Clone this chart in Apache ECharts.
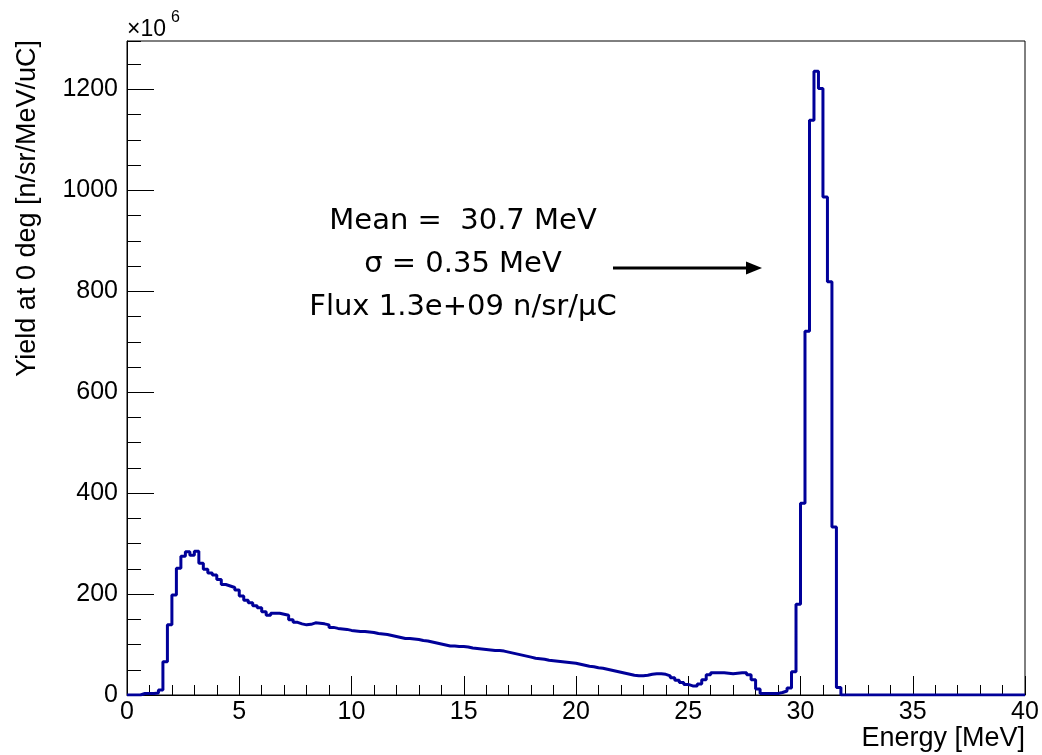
<!DOCTYPE html>
<html>
<head>
<meta charset="utf-8">
<script src="https://cdn.jsdelivr.net/npm/echarts@6/dist/echarts.min.js"></script>
<style>
html,body{margin:0;padding:0;background:#fff;}
#chart{width:1042px;height:755px;}
</style>
</head>
<body>
<div id="chart"></div>
<script>
// ---- data ----
const binWidth = 0.2; // MeV per histogram bin
const energyMin = 0;
const energyMax = 40;
// yield per bin, units of 1e6 n/sr/MeV/uC (200 bins, 0-40 MeV)
const yieldValues = [
  0,0,0,3,3,3,4,10,66,139,
  198,251,275,284,277,285,261,249,242,238,
  229,219,216,213,208,196,188,183,177,173,
  165,158,162,162,160,158,149,144,141,139,
  140,143,142,141,139,134,132,131,130,128,
  127,126,126,125,124,122,121,120,118,116,
  114,112,112,111,110,108,107,105,103,101,
  99,97,97,96,96,95,93,92,91,90,
  89,88,88,87,85,83,81,79,77,75,
  73,72,71,69,68,67,66,65,64,63,
  61,59,57,56,54,53,51,49,47,45,
  43,41,39,38,38,39,41,42,42,41,
  38,34,29,25,21,18,18,22,30,40,
  44,44,44,43,42,43,44,44,40,30,
  12,3,3,3,3,5,8,14,46,180,
  380,721,1139,1236,1202,987,819,333,15,0,
  0,0,0,0,0,0,0,0,0,0,
  0,0,0,0,0,0,0,0,0,0,
  0,0,0,0,0,0,0,0,0,0,
  0,0,0,0,0,0,0,0,0,0
];
const xTickLabels = ['0','5','10','15','20','25','30','35','40'];
const yTickLabels = ['0','200','400','600','800','1000','1200'];
const yMax = 1296;
const annotationLines = ['Mean =  30.7 MeV', '\u03C3 = 0.35 MeV', 'Flux 1.3e+09 n/sr/\u03BCC'];
const xTitle = 'Energy [MeV]';
const yTitle = 'Yield at 0 deg [n/sr/MeV/uC]';
const yExponent = ['\u00D710', '6'];

// ---- build step outline from bin low edges ----
const stepPoints = yieldValues.map((v, i) => [Math.round((energyMin + i * binWidth) * 1000) / 1000, v]);
stepPoints.push([energyMax, yieldValues[yieldValues.length - 1]]);

const axisFont = '"Liberation Sans", Arial, Helvetica, sans-serif';
const annFont = '"DejaVu Sans", "Open Sans", sans-serif';

const chart = echarts.init(document.getElementById('chart'), null, {renderer: 'canvas'});
chart.setOption({
  animation: false,
  backgroundColor: '#ffffff',
  grid: {
    left: 127, right: 17, top: 41, bottom: 60,
    show: true, borderColor: '#000', borderWidth: 1, backgroundColor: 'transparent'
  },
  xAxis: {
    type: 'value', min: energyMin, max: energyMax, interval: 5,
    axisLine: {show: true, lineStyle: {color: '#000', width: 1}},
    axisTick: {show: true, inside: true, length: 19, lineStyle: {color: '#000', width: 1}},
    minorTick: {show: true, splitNumber: 5, length: 10, lineStyle: {color: '#000', width: 1}},
    splitLine: {show: false},
    axisLabel: {
      color: '#000', fontFamily: axisFont, fontSize: 25, margin: 5,
      formatter: (v) => xTickLabels[Math.round(v / 5)] ?? ''
    }
  },
  yAxis: [
    {
      type: 'value', min: 0, max: yMax, interval: 200, position: 'left',
      axisLine: {show: true, lineStyle: {color: '#000', width: 1}},
      axisTick: {show: true, inside: true, length: 27, lineStyle: {color: '#000', width: 1}},
      splitLine: {show: false},
      axisLabel: {
        color: '#000', fontFamily: axisFont, fontSize: 25, margin: 9,
        showMaxLabel: false,
        formatter: (v) => (v % 200 === 0 ? (yTickLabels[v / 200] ?? '') : '')
      }
    },
    {
      type: 'value', min: 0, max: yMax, interval: 50, position: 'left', offset: 0,
      axisLine: {show: false},
      axisTick: {show: true, inside: true, length: 14, lineStyle: {color: '#000', width: 1}},
      splitLine: {show: false},
      axisLabel: {show: false}
    }
  ],
  series: [{
    type: 'line',
    step: 'end',
    yAxisIndex: 0,
    symbol: 'none',
    data: stepPoints,
    lineStyle: {color: '#000099', width: 3},
    itemStyle: {color: '#000099'},
    z: 3
  }],
  graphic: [
    {type: 'text', x: 1025, y: 739, style: {text: xTitle, font: '27px ' + axisFont, fill: '#000', textAlign: 'right', textVerticalAlign: 'middle'}},
    {type: 'text', x: 28, y: 40, rotation: Math.PI / 2, style: {text: yTitle, font: '27px ' + axisFont, fill: '#000', textAlign: 'right', textVerticalAlign: 'middle'}},
    {type: 'text', x: 127, y: 30, style: {text: yExponent[0], font: '23px ' + axisFont, fill: '#000', textAlign: 'left', textVerticalAlign: 'middle'}},
    {type: 'text', x: 171, y: 18, style: {text: yExponent[1], font: '16px ' + axisFont, fill: '#000', textAlign: 'left', textVerticalAlign: 'middle'}},
    {type: 'text', x: 463, y: 221, style: {text: annotationLines[0], font: '29px ' + annFont, fill: '#000', textAlign: 'center', textVerticalAlign: 'middle'}},
    {type: 'text', x: 463, y: 264, style: {text: annotationLines[1], font: '29px ' + annFont, fill: '#000', textAlign: 'center', textVerticalAlign: 'middle'}},
    {type: 'text', x: 463, y: 307, style: {text: annotationLines[2], font: '29px ' + annFont, fill: '#000', textAlign: 'center', textVerticalAlign: 'middle'}},
    {type: 'line', shape: {x1: 613, y1: 268, x2: 750, y2: 268}, style: {stroke: '#000', lineWidth: 3}},
    {type: 'polygon', shape: {points: [[746, 261.5], [762, 268], [746, 274.5]]}, style: {fill: '#000'}}
  ]
});
</script>
</body>
</html>
